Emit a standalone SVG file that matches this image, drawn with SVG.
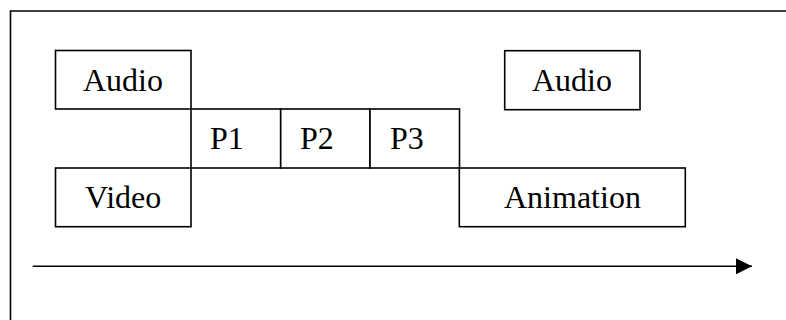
<svg xmlns="http://www.w3.org/2000/svg" width="786" height="320" viewBox="0 0 786 320">
<style>
.box{fill:#fff;stroke:#000;stroke-width:1.6}
.lbl{font-family:"Liberation Serif","Times New Roman",serif;font-size:32px;fill:#000}
.ln{fill:none;stroke:#000;stroke-width:1.6}
</style>
<defs>
<marker id="ah" markerUnits="userSpaceOnUse" markerWidth="16" markerHeight="16" refX="16" refY="8" orient="auto">
<path d="M0,0 L16,8 L0,16 Z" fill="#000"/>
</marker>
</defs>
<rect width="786" height="320" fill="#fff"/>
<path class="ln" d="M10.5,330 V11 H800"/>
<g id="audio1"><rect class="box" x="55.5" y="50.5" width="135.5" height="58.5"/><text class="lbl" x="83" y="90.5">Audio</text></g>
<g id="p1"><rect class="box" x="191" y="109" width="89.7" height="59"/><text class="lbl" x="210" y="149">P1</text></g>
<g id="p2"><rect class="box" x="280.7" y="109" width="89.3" height="59"/><text class="lbl" x="300" y="149">P2</text></g>
<g id="p3"><rect class="box" x="370" y="109" width="89.5" height="59"/><text class="lbl" x="390" y="149">P3</text></g>
<g id="video"><rect class="box" x="55.5" y="168" width="135.5" height="58.7"/><text class="lbl" x="85" y="208.3">Video</text></g>
<g id="audio2"><rect class="box" x="504.7" y="50.7" width="135.3" height="59"/><text class="lbl" x="532" y="90.5">Audio</text></g>
<g id="animation"><rect class="box" x="459.3" y="168" width="226" height="58.7"/><text class="lbl" x="504" y="208.3">Animation</text></g>
<g id="connectors"><line class="ln" x1="32.7" y1="266.3" x2="752" y2="266.3" marker-end="url(#ah)"/></g>
</svg>
